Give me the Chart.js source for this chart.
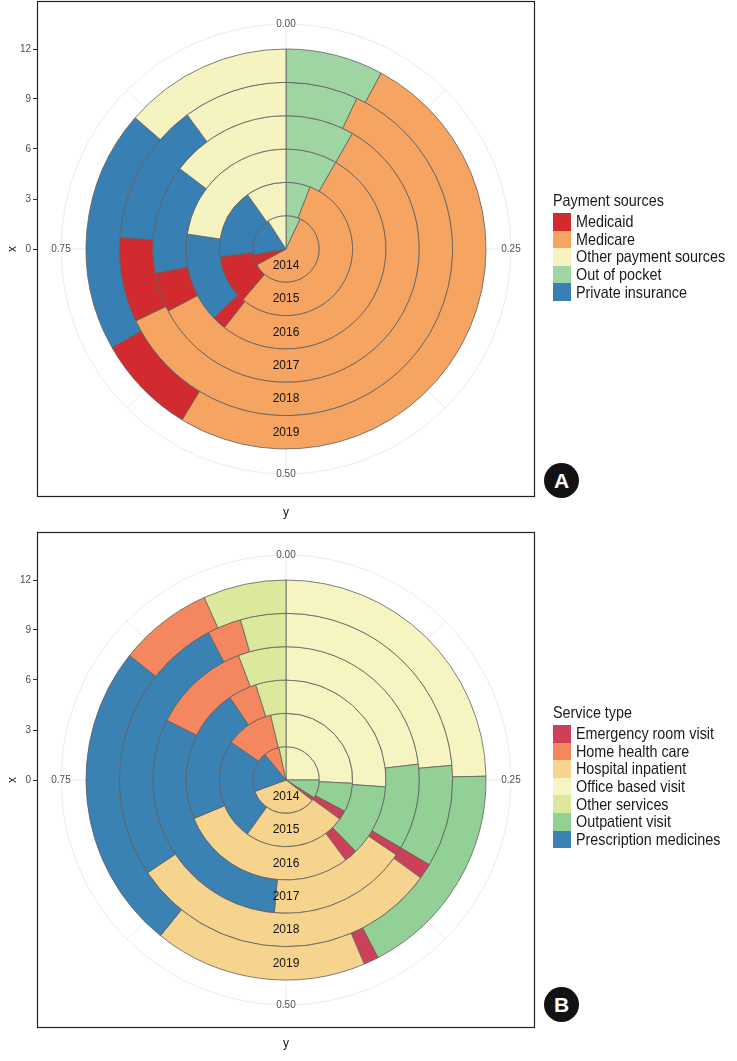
<!DOCTYPE html>
<html>
<head>
<meta charset="utf-8">
<script src="https://cdn.jsdelivr.net/npm/chart.js@4.4.0/dist/chart.umd.min.js"></script>
<style>
  body { margin: 0; background: #fff; }
  #page { position: relative; width: 737px; height: 1061px; overflow: hidden; }
  canvas { position: absolute; left: 0; }
  .legend { position: absolute; left: 553px; font-family: 'Liberation Sans', Arial, sans-serif; font-size: 16.5px; color: #1a1a1a; }
  .legend .ttl { height: 18px; line-height: 18px; margin-bottom: 4px; white-space: nowrap; }
  .legend .row { height: 17.6px; display: flex; align-items: center; white-space: nowrap; }
  .legend .key { width: 18px; height: 17.6px; margin-right: 5px; flex: none; }
  .legend .txt, .legend .ttl span { display: inline-block; transform: scaleX(0.87); transform-origin: 0 50%; }
  .badge { position: absolute; width: 35px; height: 35px; border-radius: 50%; background: #121212; color: #fff;
           font: bold 21px 'Liberation Sans', Arial, sans-serif; text-align: center; line-height: 35px; }
</style>
</head>
<body>
<div id="page">
  <canvas id="chartA" width="737" height="530" style="top:0"></canvas>
  <canvas id="chartB" width="737" height="530" style="top:531px"></canvas>
  <div id="legendA" class="legend" style="top:191px"></div>
  <div id="legendB" class="legend" style="top:703px"></div>
  <div class="badge" style="left:544px; top:463px">A</div>
  <div class="badge" style="left:544px; top:987px">B</div>
</div>
<script>
const years = ['2014', '2015', '2016', '2017', '2018', '2019'];
const radialTicks = [0, 3, 6, 9, 12];
const thetaTicks = [0, 0.25, 0.5, 0.75];
const thetaMinor = [0.125, 0.375, 0.625, 0.875];

// A: share of spending (%) by payment source, listed clockwise from 0.00
const paymentSources = ['Out of pocket', 'Medicare', 'Medicaid', 'Private insurance', 'Other payment sources'];
const paymentColors  = ['#9fd4a3', '#f5a462', '#d12a2f', '#3880b3', '#f5f3bf'];
const outOfPocket  = [7.0, 5.9, 8.3, 8.3, 7.0, 7.9];
const medicare     = [60.1, 55.3, 52.3, 59.0, 60.9, 50.8];
const medicaid     = [5.1, 12.0, 2.3, 4.8, 8.2, 8.1];
const privateIns   = [18.7, 17.0, 14.5, 13.2, 13.8, 19.6];
const otherPayment = [9.1, 9.8, 22.6, 14.7, 10.1, 13.6];

// B: share of spending (%) by service type, listed clockwise from 0.00
const serviceTypes  = ['Office based visit', 'Outpatient visit', 'Emergency room visit', 'Hospital inpatient',
                       'Prescription medicines', 'Home health care', 'Other services'];
const serviceColors = ['#f6f5c2', '#92d095', '#cc4159', '#f6d48e', '#3a81b4', '#f4875f', '#dce89b'];
const officeVisit   = [25.0, 25.8, 26.1, 23.1, 23.6, 24.7];
const outpatient    = [9.0, 7.0, 11.6, 10.4, 9.9, 17.7];
const emergency     = [1.5, 2.2, 2.1, 1.0, 1.5, 1.2];
const inpatient     = [33.9, 24.9, 28.9, 16.9, 30.6, 17.2];
const prescription  = [19.6, 24.7, 21.8, 31.0, 26.7, 24.9];
const homeHealth    = [7.6, 11.7, 4.6, 11.8, 3.3, 7.6];
const otherServices = [3.4, 3.7, 4.9, 5.8, 4.4, 6.7];

const OUTER_R = 200;      // px for radial value 12
const HALF_H = 248;       // half of the plot panel height
const yLimit = HALF_H / (OUTER_R / radialTicks[radialTicks.length - 1]);
const gridGrey = '#e2e2e2';
const textGrey = '#4d4d4d';

const polarDecor = {
  id: 'polarDecor',
  beforeDatasetsDraw(chart) {
    const ctx = chart.ctx;
    const arc = chart.getDatasetMeta(0).data[0];
    const cx = arc.x, cy = arc.y;
    const rt = arc.outerRadius * 0.45 / 0.4;
    ctx.save();
    ctx.strokeStyle = gridGrey;
    ctx.lineWidth = 0.7;
    ctx.beginPath();
    ctx.arc(cx, cy, rt, 0, Math.PI * 2);
    thetaTicks.concat(thetaMinor).forEach(t => {
      const a = -Math.PI / 2 + t * Math.PI * 2;
      ctx.moveTo(cx, cy);
      ctx.lineTo(cx + rt * Math.cos(a), cy + rt * Math.sin(a));
    });
    ctx.stroke();
    ctx.font = '10px "Liberation Sans", Arial, sans-serif';
    ctx.textAlign = 'center';
    ctx.textBaseline = 'middle';
    thetaTicks.forEach(t => {
      const a = -Math.PI / 2 + t * Math.PI * 2;
      const x = cx + rt * Math.cos(a), y = cy + rt * Math.sin(a);
      const txt = t.toFixed(2);
      const w = ctx.measureText(txt).width;
      ctx.fillStyle = '#fff';
      ctx.fillRect(x - w / 2 - 1, y - 6, w + 2, 12);
      ctx.fillStyle = textGrey;
      ctx.fillText(txt, x, y);
    });
    ctx.restore();
  },
  afterDatasetsDraw(chart) {
    const ctx = chart.ctx;
    ctx.save();
    ctx.font = '12px "Liberation Sans", Arial, sans-serif';
    ctx.fillStyle = '#111';
    ctx.textAlign = 'center';
    ctx.textBaseline = 'middle';
    chart.data.datasets.forEach((ds, i) => {
      const arc = chart.getDatasetMeta(i).data[0];
      const mid = (arc.innerRadius + arc.outerRadius) / 2;
      ctx.fillText(ds.label, arc.x, arc.y + mid);
    });
    const a = chart.chartArea;
    ctx.strokeStyle = '#222';
    ctx.lineWidth = 1.2;
    ctx.strokeRect(a.left + 0.5, a.top + 0.5, a.right - a.left - 1, a.bottom - a.top - 1);
    ctx.restore();
  }
};

function buildLegend(id, title, categories, colors) {
  const box = document.getElementById(id);
  let html = '<div class="ttl"><span>' + title + '</span></div>';
  categories.map((c, i) => ({ c, col: colors[i] }))
    .sort((p, q) => (p.c < q.c ? -1 : 1))
    .forEach(p => {
      html += '<div class="row"><span class="key" style="background:' + p.col + '"></span><span class="txt">' + p.c + '</span></div>';
    });
  box.innerHTML = html;
}

function buildPanel(canvasId, categories, colors, series) {
  const datasets = years.map((y, i) => ({
    label: y,
    data: series.map(s => s[i]),
    backgroundColor: colors,
    borderColor: '#5f5f5f',
    borderWidth: 0.8
  })).reverse();   // outermost ring first

  new Chart(document.getElementById(canvasId), {
    type: 'doughnut',
    data: { labels: categories, datasets: datasets },
    options: {
      responsive: false,
      animation: false,
      events: [],
      cutout: 0,
      radius: OUTER_R,
      layout: { padding: { top: 1, right: 202, left: 0, bottom: 0 } },
      plugins: { legend: { display: false }, tooltip: { enabled: false } },
      scales: {
        x: {
          type: 'linear', position: 'bottom', min: 0, max: 1,
          ticks: { display: false }, grid: { display: false }, border: { display: false },
          title: { display: true, text: 'y', color: '#111', font: { size: 12, family: 'Liberation Sans' }, padding: { top: 0, bottom: 10 } },
          afterFit: s => { s.height = 33; s.paddingLeft = 0; s.paddingRight = 0; }
        },
        y: {
          type: 'linear', position: 'left', min: -yLimit, max: yLimit,
          afterBuildTicks: s => { s.ticks = radialTicks.map(v => ({ value: v })); },
          afterFit: s => { s.width = 37; s.paddingTop = 0; s.paddingBottom = 0; },
          grid: { drawOnChartArea: false, drawTicks: true, tickLength: 4, color: '#333' },
          border: { display: false },
          ticks: { color: textGrey, font: { size: 10, family: 'Liberation Sans' }, padding: 2 },
          title: { display: true, text: 'x', color: '#111', font: { size: 12, family: 'Liberation Sans' }, padding: { top: 5, bottom: 0 } }
        }
      }
    },
    plugins: [polarDecor]
  });
}

buildPanel('chartA', paymentSources, paymentColors,
  [outOfPocket, medicare, medicaid, privateIns, otherPayment]);
buildPanel('chartB', serviceTypes, serviceColors,
  [officeVisit, outpatient, emergency, inpatient, prescription, homeHealth, otherServices]);
buildLegend('legendA', 'Payment sources', paymentSources, paymentColors);
buildLegend('legendB', 'Service type', serviceTypes, serviceColors);
</script>
</body>
</html>
